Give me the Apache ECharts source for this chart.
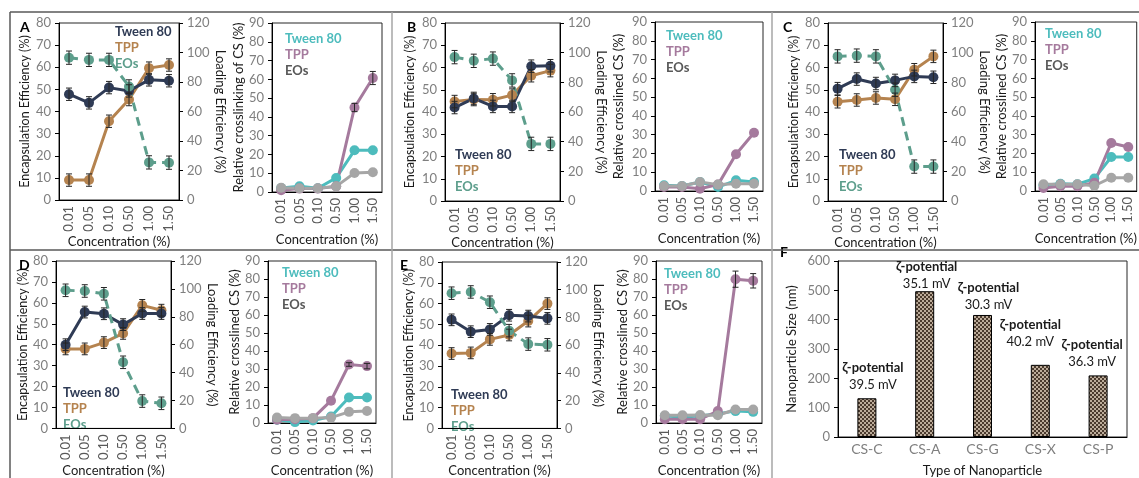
<!DOCTYPE html>
<html>
<head>
<meta charset="utf-8">
<script src="https://cdn.jsdelivr.net/npm/echarts@6/dist/echarts.min.js"></script>
<style>
  html, body { margin: 0; background: #fff; }
  #main { width: 1139px; height: 478px; }
</style>
</head>
<body>
<div id="main"></div>
<script>
const concentrations = ['0.01', '0.05', '0.10', '0.50', '1.00', '1.50'];
const panelLetters = ['A', 'B', 'C', 'D', 'E'];

// encapsulation efficiency (%) - left axis, one row per panel A..E
const eeTween = [
  [47.8, 43.9, 50.8, 49.3, 54.3, 53.9],
  [42.0, 46.1, 42.5, 42.5, 60.6, 60.8],
  [50.5, 54.8, 52.8, 54.2, 56.0, 55.6],
  [40.0, 55.6, 54.8, 49.6, 54.9, 54.9],
  [52.2, 46.5, 47.6, 54.4, 54.0, 52.9]
];
const eeTpp = [
  [9.0, 9.0, 35.6, 45.4, 59.6, 61.0],
  [44.7, 45.6, 45.5, 47.6, 56.3, 58.6],
  [44.6, 45.4, 46.3, 45.7, 59.0, 65.0],
  [38.0, 38.0, 41.0, 45.4, 58.8, 56.5],
  [36.0, 36.3, 42.8, 44.9, 51.6, 60.0]
];
// loading efficiency (%) - right axis
const leEos = [
  [96.5, 95.0, 95.0, 77.0, 25.5, 25.3],
  [97.0, 94.5, 96.0, 81.3, 38.5, 38.5],
  [97.5, 98.0, 97.5, 75.0, 23.2, 23.2],
  [99.0, 98.5, 96.5, 47.4, 19.6, 18.0],
  [97.5, 98.4, 91.0, 70.5, 60.8, 60.3]
];
const eeErr = 2.8;
const leErr = 4.5;

// relative crosslinking of CS (%)
const csTween = [
  [2.1, 3.0, 2.0, 7.5, 22.2, 22.2],
  [3.0, 2.7, 4.8, 2.1, 5.7, 4.8],
  [3.0, 3.9, 3.6, 6.6, 18.1, 18.1],
  [1.8, 0.5, 1.4, 3.6, 14.2, 14.2],
  [3.9, 3.4, 3.9, 5.2, 6.6, 6.2]
];
const csTpp = [
  [0.9, 1.8, 1.8, 3.0, 45.0, 60.7],
  [2.1, 2.1, 1.2, 3.4, 19.6, 31.0],
  [1.6, 2.5, 2.5, 4.4, 25.6, 23.4],
  [1.8, 2.1, 2.7, 12.4, 32.5, 31.6],
  [2.1, 2.1, 2.1, 6.6, 79.9, 79.0]
];
const csEos = [
  [2.3, 2.0, 2.0, 3.0, 10.1, 10.5],
  [2.7, 2.7, 4.8, 3.4, 3.9, 3.9],
  [3.6, 3.6, 3.6, 2.8, 7.1, 7.1],
  [3.0, 2.7, 2.7, 3.0, 6.2, 6.7],
  [4.3, 4.3, 4.4, 4.3, 7.5, 7.5]
];
const csTppErr = [
  [0, 0, 0, 0, 2.2, 3.5],
  [0, 0, 0, 0, 0, 0],
  [0, 0, 0, 0, 0, 0],
  [0, 0, 0, 0, 1.0, 1.5],
  [0, 0, 0, 0, 4.5, 4.0]
];

// panel F
const particleTypes = ['CS-C', 'CS-A', 'CS-G', 'CS-X', 'CS-P'];
const particleSize = [132, 497, 416, 246, 210];
const zetaPotential = ['39.5', '35.1', '30.3', '40.2', '36.3'];

// layout (px)
const leftGrids = [
  { left: 59, top: 23, width: 120, height: 177 },
  { left: 445, top: 23, width: 115, height: 178 },
  { left: 828, top: 23, width: 115, height: 178 },
  { left: 56, top: 261, width: 115, height: 177 },
  { left: 442, top: 262, width: 115, height: 178 }
];
const rightGrids = [
  { left: 272, top: 23, width: 110, height: 169 },
  { left: 655, top: 22, width: 108, height: 169 },
  { left: 1035, top: 22, width: 104, height: 169 },
  { left: 268, top: 261, width: 108, height: 169 },
  { left: 656, top: 261, width: 106, height: 169 }
];
const eeNameGap = [28, 29, 28, 25, 27];
const csNameGap = [24, 30, 27, 25, 25];
const csTitles = ['Relative crosslinking of CS (%)', 'Relative crosslined CS (%)',
  'Relative crosslined CS (%)', 'Relative crosslined CS (%)', 'Relative crosslined CS (%)'];
const leftLegendPos = [[115, 32], [455, 155], [839, 155], [63, 393], [451, 395]];
const rightLegendPos = [[285, 39], [666, 36], [1045, 34], [282, 273], [664, 274]];
const letterPos = [[20, 27], [407, 27], [783, 27], [19, 265], [400, 265]];
const zetaOffsets = [[6, 0], [2, 6], [6, 3], [-10, -10], [-6, 0]];

const C = {
  tween: '#2f3b55', tpp: '#b5834f', eos: '#5d9e8c',
  tweenR: '#4dbcbd', tppR: '#a57a9d', eosR: '#a6a6a6', eosRText: '#595959'
};
const FONT = 'Lato';
const tickStyle = { color: '#7f7f7f', fontSize: 13, fontFamily: FONT };
const titleStyle = { color: '#1a1a1a', fontSize: 13, fontFamily: FONT };
const eeTitleStyle = { color: '#1a1a1a', fontSize: 12.5, fontFamily: FONT };

const chart = echarts.init(document.getElementById('main'));

const grid = [], xAxis = [], yAxis = [], series = [], graphic = [];

function catAxis(gi, nameGap) {
  return {
    type: 'category', gridIndex: gi, data: concentrations,
    axisLine: { lineStyle: { color: '#000', width: 1 } },
    axisTick: { length: 4, lineStyle: { color: '#000' } },
    axisLabel: Object.assign({ rotate: 90, margin: 6 }, tickStyle, { color: '#595959' }),
    name: 'Concentration (%)', nameLocation: 'middle', nameGap: nameGap,
    nameTextStyle: titleStyle
  };
}

function valAxis(gi, max, interval, name, nameGap, pos, nameStyle) {
  return {
    type: 'value', gridIndex: gi, min: 0, max: max, interval: interval, position: pos,
    splitLine: { show: false },
    axisLine: { show: true, lineStyle: { color: '#000', width: 1 } },
    axisTick: { show: true, length: 4, lineStyle: { color: '#000' } },
    axisLabel: Object.assign({ margin: 8 }, tickStyle),
    name: name, nameLocation: 'middle', nameGap: nameGap,
    nameRotate: pos === 'right' ? -90 : 90,
    nameTextStyle: nameStyle || titleStyle
  };
}

function line(xi, yi, data, color, dashed) {
  return {
    type: 'line', xAxisIndex: xi, yAxisIndex: yi, data: data,
    symbol: 'circle', symbolSize: 10, animation: false,
    lineStyle: { color: color, width: 3, type: dashed ? [9, 6] : 'solid' },
    itemStyle: { color: color }, z: 3
  };
}

function errorBars(xi, yi, vals, err) {
  const rows = [];
  vals.forEach((v, i) => {
    const e = Array.isArray(err) ? err[i] : err;
    if (e > 0) rows.push([i, v - e, v + e]);
  });
  return {
    type: 'custom', xAxisIndex: xi, yAxisIndex: yi, data: rows, z: 6,
    silent: true, animation: false,
    encode: { x: 0, y: [1, 2] },
    renderItem: (params, api) => {
      const lo = api.coord([api.value(0), api.value(1)]);
      const hi = api.coord([api.value(0), api.value(2)]);
      const st = { stroke: '#262626', lineWidth: 1 };
      return {
        type: 'group', children: [
          { type: 'line', shape: { x1: lo[0], y1: lo[1], x2: hi[0], y2: hi[1] }, style: st },
          { type: 'line', shape: { x1: lo[0] - 3, y1: lo[1], x2: lo[0] + 3, y2: lo[1] }, style: st },
          { type: 'line', shape: { x1: hi[0] - 3, y1: hi[1], x2: hi[0] + 3, y2: hi[1] }, style: st }
        ]
      };
    }
  };
}

function legendText(x, y, items) {
  items.forEach((it, k) => {
    graphic.push({
      type: 'text', x: x, y: y + k * 16, silent: true,
      style: { text: it[0], fill: it[1], font: 'bold 13px ' + FONT, verticalAlign: 'middle' }
    });
  });
}

panelLetters.forEach((letter, p) => {
  const gl = 2 * p, gr = 2 * p + 1;
  const yEE = 3 * p, yLE = 3 * p + 1, yCS = 3 * p + 2;
  const lg = leftGrids[p], rg = rightGrids[p];
  const bottomRow = p >= 3;

  grid.push(Object.assign({ show: true, borderColor: '#262626', borderWidth: 1 }, lg));
  grid.push(Object.assign({ show: true, borderColor: '#262626', borderWidth: 1 }, rg));

  xAxis.push(catAxis(gl, bottomRow ? 34 : 33));
  xAxis.push(catAxis(gr, bottomRow ? 41 : 41));

  yAxis.push(valAxis(gl, 80, 10, 'Encapsulation Efficiency (%)', eeNameGap[p], 'left', eeTitleStyle));
  yAxis.push(valAxis(gl, 120, 20, 'Loading Efficiency (%)', 28, 'right'));
  yAxis.push(valAxis(gr, 90, 10, csTitles[p], csNameGap[p], 'left'));

  series.push(line(gl, yEE, eeTpp[p], C.tpp));
  series.push(line(gl, yEE, eeTween[p], C.tween));
  series.push(line(gl, yLE, leEos[p], C.eos, true));
  series.push(errorBars(gl, yEE, eeTween[p], eeErr));
  series.push(errorBars(gl, yEE, eeTpp[p], eeErr));
  series.push(errorBars(gl, yLE, leEos[p], leErr));

  series.push(line(gr, yCS, csTween[p], C.tweenR));
  series.push(line(gr, yCS, csTpp[p], C.tppR));
  series.push(line(gr, yCS, csEos[p], C.eosR));
  series.push(errorBars(gr, yCS, csTpp[p], csTppErr[p]));

  legendText(leftLegendPos[p][0], leftLegendPos[p][1],
    [['Tween 80', C.tween], ['TPP', C.tpp], ['EOs', C.eos]]);
  legendText(rightLegendPos[p][0], rightLegendPos[p][1],
    [['Tween 80', C.tweenR], ['TPP', C.tppR], ['EOs', C.eosRText]]);

  graphic.push({
    type: 'text', x: letterPos[p][0], y: letterPos[p][1], silent: true, z: 10,
    style: { text: letter, fill: '#000', font: 'bold 14px ' + FONT, verticalAlign: 'middle' }
  });
});

// panel F
const pat = document.createElement('canvas');
pat.width = 4; pat.height = 4;
const pc = pat.getContext('2d');
pc.fillStyle = '#bcac9a'; pc.fillRect(0, 0, 4, 4);
pc.fillStyle = '#4a3a2d'; pc.fillRect(0, 0, 2, 2); pc.fillRect(2, 2, 2, 2);

grid.push({ left: 838, top: 261, width: 289, height: 179, show: true, borderColor: '#262626', borderWidth: 1 });
xAxis.push({
  type: 'category', gridIndex: 10, data: particleTypes,
  axisLine: { lineStyle: { color: '#000' } },
  axisTick: { length: 4, lineStyle: { color: '#000' } },
  axisLabel: Object.assign({ margin: 5 }, tickStyle, { fontSize: 14 }),
  name: 'Type of Nanoparticle', nameLocation: 'middle', nameGap: 27,
  nameTextStyle: titleStyle
});
yAxis.push(valAxis(10, 600, 100, 'Nanoparticle Size (nm)', 40, 'left'));
series.push({
  type: 'bar', xAxisIndex: 10, yAxisIndex: 15, barWidth: 19, animation: false,
  data: particleSize.map((v, i) => ({ value: v, label: { offset: zetaOffsets[i] } })),
  itemStyle: { color: { image: pat, repeat: 'repeat' }, borderColor: '#000', borderWidth: 1 },
  label: {
    show: true, position: 'top', distance: 5,
    formatter: p => '{b|ζ-potential}\n{v|' + zetaPotential[p.dataIndex] + ' mV}',
    rich: {
      b: { fontWeight: 'bold', fontSize: 13, color: '#1a1a1a', lineHeight: 17, fontFamily: FONT },
      v: { fontSize: 13, color: '#1a1a1a', lineHeight: 17, fontFamily: FONT }
    }
  }
});
graphic.push({
  type: 'text', x: 780, y: 252, silent: true,
  style: { text: 'F', fill: '#000', font: 'bold 14px ' + FONT, verticalAlign: 'middle' }
});

// figure frame
const frame = [
  [10, 12, 1139, 12, '#595959'],
  [10, 12, 10, 478, '#595959'],
  [10, 250, 1139, 250, '#595959'],
  [392, 12, 392, 478, '#a6a6a6'],
  [772, 12, 772, 478, '#a6a6a6']
];
frame.forEach(f => graphic.push({
  type: 'line', silent: true, z: 0,
  shape: { x1: f[0], y1: f[1], x2: f[2], y2: f[3] },
  style: { stroke: f[4], lineWidth: 1.5 }
}));

chart.setOption({
  backgroundColor: '#ffffff',
  animation: false,
  textStyle: { fontFamily: FONT },
  grid: grid, xAxis: xAxis, yAxis: yAxis, series: series, graphic: graphic
});
</script>
</body>
</html>
